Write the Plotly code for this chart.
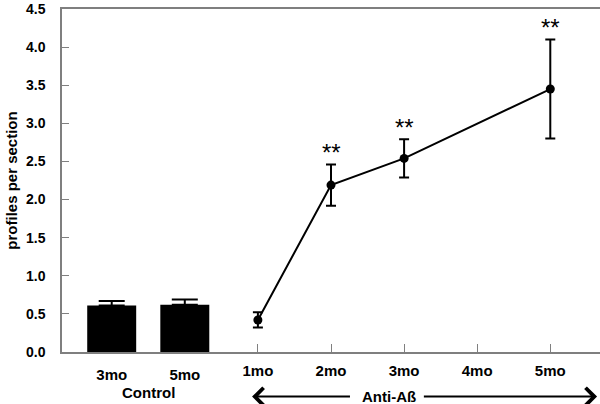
import plotly.graph_objects as go

# control group (bars)
control_labels = ["3mo", "5mo"]
control_means = [0.61, 0.62]
control_err = [0.06, 0.07]

# anti-Ab treated group (line); no measurement at 4mo
anti_labels = ["1mo", "2mo", "3mo", "4mo", "5mo"]
anti_means = [0.42, 2.19, 2.54, None, 3.45]
anti_err = [0.10, 0.27, 0.25, None, 0.65]
anti_sig = ["", "**", "**", "", "**"]

y_ticks = [0.0, 0.5, 1.0, 1.5, 2.0, 2.5, 3.0, 3.5, 4.0, 4.5]

font_family = "Arial, Liberation Sans, sans-serif"
axis_grey = "#7f7f7f"

ctrl_x = list(range(len(control_labels)))
anti_x = [len(control_labels) + i for i in range(len(anti_labels))]
x_range = [-0.68, anti_x[-1] + 0.68]

fig = go.Figure()

fig.add_trace(go.Bar(
    x=ctrl_x,
    y=control_means,
    width=0.67,
    marker=dict(color="black", line=dict(width=0)),
    error_y=dict(type="data", array=control_err, symmetric=False,
                 arrayminus=[0] * len(control_err),
                 color="black", thickness=2, width=13),
    showlegend=False,
))

fig.add_trace(go.Scatter(
    x=anti_x,
    y=anti_means,
    mode="lines+markers",
    connectgaps=True,
    line=dict(color="black", width=2),
    marker=dict(color="black", size=9),
    error_y=dict(type="data", array=[e if e is not None else 0 for e in anti_err],
                 color="black", thickness=2, width=5),
    xaxis="x2",
    showlegend=False,
))

# significance stars
for xi, m, e, s in zip(anti_x, anti_means, anti_err, anti_sig):
    if s:
        fig.add_annotation(
            x=xi, y=m + e, xref="x2", yref="y",
            text=s, showarrow=False, yanchor="bottom", yshift=-4,
            font=dict(family=font_family, size=24, color="black"),
        )

# group labels
fig.add_annotation(
    x=sum(ctrl_x) / len(ctrl_x), y=-0.118, xref="x", yref="paper",
    text="Control", showarrow=False, yanchor="middle",
    font=dict(family=font_family, size=15, color="black", weight="bold"),
)
anti_mid = (anti_x[0] + anti_x[-1]) / 2 - 0.2
fig.add_annotation(
    x=anti_mid, y=-0.13, xref="x2", yref="paper",
    text="Anti-Aß", showarrow=False, yanchor="middle",
    font=dict(family=font_family, size=15, color="black", weight="bold"),
)
# arrows left and right of the Anti-Ab label
fig.add_annotation(
    x=anti_x[0] - 0.08, y=-0.13, xref="x2", yref="paper",
    ax=anti_mid - 0.52, ay=0, axref="x2", ayref="pixel",
    text="", showarrow=True, arrowhead=4, arrowsize=1.7, arrowwidth=2,
    arrowcolor="black",
)
fig.add_annotation(
    x=anti_x[-1] + 0.64, y=-0.13, xref="x2", yref="paper",
    ax=anti_mid + 0.45, ay=0, axref="x2", ayref="pixel",
    text="", showarrow=True, arrowhead=4, arrowsize=1.7, arrowwidth=2,
    arrowcolor="black",
)

y_tick_font = dict(family=font_family, size=14, color="black", weight="bold")
x_tick_font = dict(family=font_family, size=15, color="black", weight="bold")

fig.update_layout(
    width=600, height=404,
    margin=dict(l=62, r=0, t=9, b=52),
    paper_bgcolor="white", plot_bgcolor="white",
    xaxis=dict(
        range=x_range,
        tickvals=ctrl_x, ticktext=control_labels,
        ticks="", showgrid=False, zeroline=False,
        showline=True, linecolor=axis_grey, linewidth=1.5, mirror=True,
        tickfont=x_tick_font, ticklabelstandoff=8,
    ),
    xaxis2=dict(
        range=x_range, overlaying="x",
        tickvals=anti_x, ticktext=anti_labels,
        ticks="inside", ticklen=8, tickcolor=axis_grey, tickwidth=1,
        showgrid=False, zeroline=False, showline=False,
        tickfont=x_tick_font, ticklabelstandoff=8,
    ),
    yaxis=dict(
        range=[0, 4.5],
        tickvals=y_ticks, tickformat=".1f",
        ticks="inside", ticklen=7, tickcolor=axis_grey, tickwidth=1,
        showgrid=False, zeroline=False,
        showline=True, linecolor=axis_grey, linewidth=1.5,
        tickfont=y_tick_font, ticklabelstandoff=12,
        title=dict(text="profiles per section", standoff=5,
                   font=dict(family=font_family, size=15, color="black", weight="bold")),
    ),
)

# drop the default body margin so the figure sits at the window corner
fig.write_html("out.html", config={"displayModeBar": False},
               post_script="document.body.style.margin='0';")
